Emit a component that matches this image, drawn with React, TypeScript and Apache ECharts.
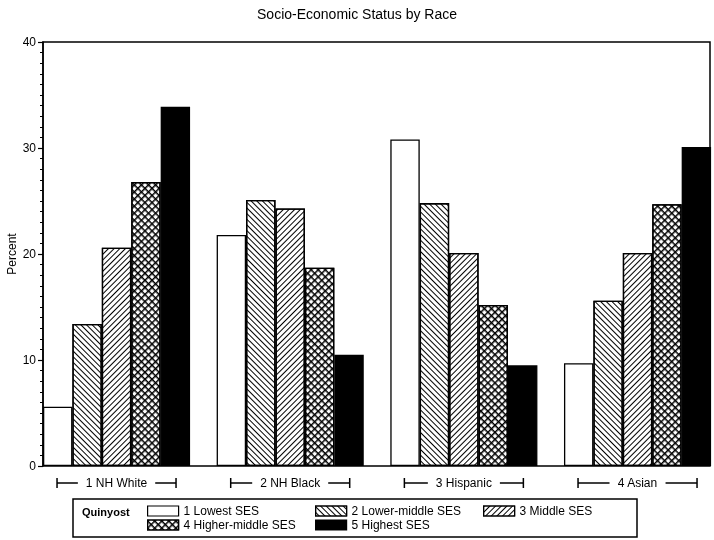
import React, { useEffect, useRef } from "react";
import * as echarts from "echarts";

const categories = ["1 NH White", "2 NH Black", "3 Hispanic", "4 Asian"];
const seriesNames = [
  "1 Lowest SES",
  "2 Lower-middle SES",
  "3 Middle SES",
  "4 Higher-middle SES",
  "5 Highest SES",
];
const lowest = [5.6, 21.8, 30.8, 9.7];
const lowerMiddle = [13.4, 25.1, 24.8, 15.6];
const middle = [20.6, 24.3, 20.1, 20.1];
const higherMiddle = [26.8, 18.7, 15.2, 24.7];
const highest = [33.9, 10.5, 9.5, 30.1];
const yTicks = [0, 10, 20, 30, 40];

const FONT = "'Liberation Sans', Arial, sans-serif";

export default function App() {
  const ref = useRef<HTMLDivElement>(null);
  useEffect(() => {
    document.body.style.margin = "0";
    const chart = echarts.init(ref.current!, null, { renderer: "svg" });

    const hatchBack = {
      symbol: "rect",
      symbolSize: 1,
      dashArrayX: [1, 0],
      dashArrayY: [1, 3],
      rotation: Math.PI / 4,
      color: "#000",
    };
    const hatchFwd = { ...hatchBack, rotation: -Math.PI / 4 };
    const cross = {
      symbol: "path://M0 0H10V3H3V10H0Z",
      symbolSize: 1,
      symbolKeepAspect: false,
      dashArrayX: [5, 0],
      dashArrayY: [5, 0],
      rotation: Math.PI / 4,
      color: "#000",
    };

    const values = [lowest, lowerMiddle, middle, higherMiddle, highest];
    const fills = ["#fff", "#fff", "#fff", "#fff", "#000"];
    const decals: any[] = [null, hatchBack, hatchFwd, cross, null];

    const barSeries = values.map((v, i) => ({
      name: seriesNames[i],
      type: "bar",
      xAxisIndex: 1,
      yAxisIndex: 1,
      data: v,
      barGap: "0%",
      barCategoryGap: "15.3%",
      itemStyle: {
        color: fills[i],
        borderColor: "#000",
        borderWidth: 1.3,
        decal: decals[i] || undefined,
      },
    }));

    const bracketSeries = {
      type: "custom",
      xAxisIndex: 1,
      yAxisIndex: 1,
      z: -1,
      silent: true,
      clip: false,
      data: categories.map((_, i) => [i, 0]),
      encode: { x: 0, y: 1 },
      renderItem: (params: any, api: any) => {
        const p = api.coord([api.value(0), 0]);
        const cx = p[0];
        const y = p[1] + 17;
        const half = 59.5;
        const st = { stroke: "#000", lineWidth: 1.5 };
        return {
          type: "group",
          children: [
            { type: "line", shape: { x1: cx - half, y1: y, x2: cx + half, y2: y }, style: st },
            { type: "line", shape: { x1: cx - half, y1: y - 5, x2: cx - half, y2: y + 5 }, style: st },
            { type: "line", shape: { x1: cx + half, y1: y - 5, x2: cx + half, y2: y + 5 }, style: st },
          ],
        };
      },
    };

    const legendBase = {
      orient: "vertical",
      top: 505,
      padding: 0,
      itemGap: 2,
      itemWidth: 31,
      itemHeight: 10,
      icon: "rect",
      selectedMode: false,
      itemStyle: { borderColor: "#000", borderWidth: 1.2 },
      textStyle: { fontSize: 12, color: "#000", fontFamily: FONT, lineHeight: 12 },
    };

    chart.setOption({
      animation: false,
      textStyle: { fontFamily: FONT, color: "#000" },
      title: {
        text: "Socio-Economic Status by Race",
        left: "center",
        top: 2,
        textStyle: { fontSize: 14, fontWeight: "normal", color: "#000", fontFamily: FONT },
      },
      legend: [
        { ...legendBase, left: 147, data: [seriesNames[0], seriesNames[3]] },
        { ...legendBase, left: 315, data: [seriesNames[1], seriesNames[4]] },
        { ...legendBase, left: 483, data: [seriesNames[2]] },
      ],
      grid: [
        {
          left: 43,
          right: 4,
          top: 42,
          bottom: 74,
          show: true,
          borderColor: "#000",
          borderWidth: 1.5,
          backgroundColor: "transparent",
          containLabel: false,
          outerBoundsMode: "none",
        },
        {
          left: 29.7,
          right: -10.37,
          top: 42,
          bottom: 74,
          containLabel: false,
          outerBoundsMode: "none",
        },
      ],
      xAxis: [
        { type: "value", gridIndex: 0, show: false, min: 0, max: 1 },
        {
          type: "category",
          gridIndex: 1,
          data: categories,
          axisLine: { show: false },
          axisTick: { show: false },
          axisLabel: {
            fontSize: 12,
            color: "#000",
            margin: 10,
            backgroundColor: "#fff",
            padding: [1, 8],
            fontFamily: FONT,
          },
        },
      ],
      yAxis: [
        {
          type: "value",
          gridIndex: 0,
          min: yTicks[0],
          max: yTicks[yTicks.length - 1],
          interval: 10,
          name: "Percent",
          nameLocation: "middle",
          nameGap: 25,
          nameMoveOverlap: false,
          nameTextStyle: { fontSize: 12, color: "#000", fontFamily: FONT },
          axisLine: { show: true, lineStyle: { color: "#000", width: 1.5 } },
          axisTick: { show: true, length: 5, lineStyle: { color: "#000", width: 1.2 } },
          minorTick: { show: true, splitNumber: 10, length: 3, lineStyle: { color: "#000", width: 1 } },
          splitLine: { show: false },
          axisLabel: { fontSize: 12, color: "#000", margin: 7, fontFamily: FONT },
        },
        { type: "value", gridIndex: 1, min: 0, max: 40, show: false },
      ],
      graphic: [
        {
          type: "rect",
          shape: { x: 73, y: 499, width: 564, height: 38 },
          style: { fill: "none", stroke: "#000", lineWidth: 1.5 },
        },
        {
          type: "text",
          x: 82,
          y: 512,
          style: {
            text: "Quinyost",
            fontSize: 11,
            fontWeight: "bold",
            fontFamily: FONT,
            fill: "#000",
            verticalAlign: "middle",
          },
        },
      ],
      series: [...barSeries, bracketSeries],
    });
    return () => chart.dispose();
  }, []);
  return (
    <div
      ref={ref}
      style={{ position: "fixed", left: 0, top: 0, width: 714, height: 540 }}
    />
  );
}
